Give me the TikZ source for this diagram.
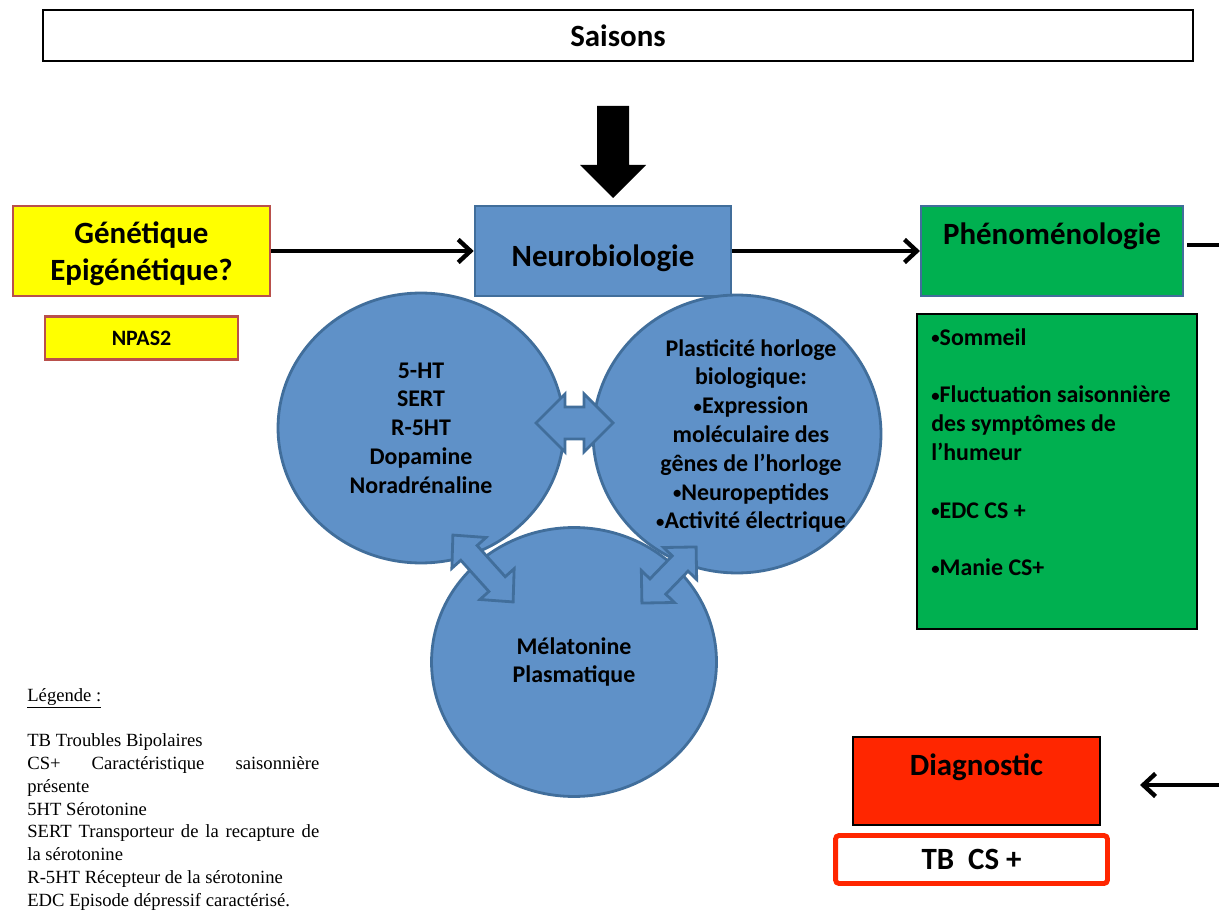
\documentclass[tikz,border=0pt]{standalone}
\usepackage{fontspec}
\setmainfont{Carlito}
\newfontfamily\legfont{Liberation Serif}
\usetikzlibrary{shapes.geometric,arrows.meta,positioning}
\definecolor{bleu}{RGB}{95,145,200}
\definecolor{bleufonce}{RGB}{65,110,155}
\definecolor{jaune}{RGB}{255,255,0}
\definecolor{brique}{RGB}{185,80,75}
\definecolor{vert}{RGB}{0,176,80}
\definecolor{rouge}{RGB}{255,38,0}
\newcommand\puce{\raisebox{0.12ex}{\scalebox{0.7}{•}}}
\tikzstyle{boite} = [draw=black,line width=1.5pt,rectangle,inner sep=0pt,
  font=\bfseries\fontsize{17.6pt}{21pt}\selectfont,align=center]
\tikzstyle{titre} = [font=\bfseries\fontsize{17.6pt}{21pt}\selectfont,anchor=base,inner sep=0pt]
\tikzstyle{bulle} = [draw=bleufonce,fill=bleu,line width=1.6pt,ellipse,inner sep=0pt,
  font=\bfseries\fontsize{13.6pt}{16.4pt}\selectfont,align=center]
\tikzstyle{fleche} = [line width=2.5pt,-{Straight Barb[length=7pt,width=13pt]}]
\tikzset{
  pics/dblfleche/.style n args={4}{code={
    \draw [draw=bleufonce,fill=bleu,line width=1.6pt,line join=miter]
      ({-#1/2},0) -- ({-#1/2+#2},#3) -- ({-#1/2+#2},#4) -- ({#1/2-#2},#4)
      -- ({#1/2-#2},#3) -- ({#1/2},0) -- ({#1/2-#2},-#3) -- ({#1/2-#2},-#4)
      -- ({-#1/2+#2},-#4) -- ({-#1/2+#2},-#3) -- cycle;
  }}
}

\begin{document}
\begin{tikzpicture}[x=0.02cm,y=-0.02cm]
    \useasboundingbox (0,0) rectangle (1219,911);
    % saisons
    \node [boite,minimum width=23cm,minimum height=1.02cm] (saisons) at (618,35.5) {Saisons};
    \fill (597,106) -- (629,106) -- (629,165) -- (646,165) -- (613,198)
      -- (580,165) -- (597,165) -- cycle;
    % rangee du haut
    \node [boite,draw=brique,fill=jaune,minimum width=5.14cm,minimum height=1.8cm] (genet) at (141.5,251) {};
    \node [boite,draw=none,yshift=-0.06cm] (genettexte) at (genet) {Génétique\\Epigénétique?};
    \node [boite,draw=brique,fill=jaune,minimum width=3.86cm,minimum height=0.86cm,
      font=\bfseries\fontsize{12.5pt}{15pt}\selectfont,below=0.36cm of genet] (npas) {NPAS2};
    \node [boite,draw=bleufonce,fill=bleu,minimum width=5.12cm,minimum height=1.8cm] (neuro) at (603,251) {};
    \node [titre] (neurotitre) at (603,267) {Neurobiologie};
    \node [boite,draw=bleufonce,fill=vert,line width=1.2pt,minimum width=5.24cm,minimum height=1.8cm] (pheno) at (1052,251) {};
    \node [titre] (phenotitre) at (1052,245) {Phénoménologie};
    \draw [fleche] (genet) -- (neuro);
    \draw [fleche] (neuro) -- (pheno);
    \coordinate (phenosortie) at (1187,245);
    \coordinate (bordD) at (1219,245);
    \draw [line width=2.5pt] (phenosortie) -- (bordD);
    % symptomes
    \node [boite,fill=vert,line width=1.2pt,minimum width=5.6cm,minimum height=6.3cm] (symptomes) at (1057,471.5) {};
    \node [anchor=north west,inner sep=0pt,align=left,
      font=\bfseries\fontsize{13.6pt}{16.4pt}\selectfont] (symptexte) at (931,328)
      {\puce Sommeil\\[16.4pt]\puce Fluctuation saisonnière\\des symptômes de\\l’humeur\\[16.4pt]\puce EDC CS +\\[16.4pt]\puce Manie CS+};
    % bulles
    \node [bulle,minimum width=5.72cm,minimum height=5.4cm] (mono) at (421,428)
      {5-HT\\SERT\\R-5HT\\Dopamine\\Noradrénaline};
    \node [bulle,minimum width=5.76cm,minimum height=5.56cm] (horloge) at (737,434) {};
    \node [font=\bfseries\fontsize{13.6pt}{16.4pt}\selectfont,align=center,inner sep=0pt] (horlogetexte) at (751,436)
      {Plasticité horloge\\biologique:\\\puce Expression\\moléculaire des\\gênes de l’horloge\\\puce Neuropeptides\\\puce Activité électrique};
    \node [bulle,minimum width=5.7cm,minimum height=5.38cm] (melato) at (574,662) {Mélatonine\\Plasmatique};
    \pic at (574.5,423) {dblfleche={77}{29}{29}{16}};
    \pic [rotate=-48] at (483,568.5) {dblfleche={90}{24}{23}{11}};
    \pic [rotate=46] at (669,575) {dblfleche={78}{23}{23}{11}};
    % diagnostic
    \node [boite,fill=rouge,line width=1.2pt,minimum width=4.94cm,minimum height=1.76cm] (diag) at (976.5,781) {};
    \node [titre] (diagtitre) at (976.5,775) {Diagnostic};
    \node [boite,draw=rouge,fill=white,line width=2.8pt,rounded corners=2pt,
      minimum width=5.44cm,minimum height=0.96cm] (tbcs) at (971.5,859.5) {TB\ \ CS +};
    \coordinate (bordD2) at (1219,785);
    \coordinate (diagentree) at (1140,785);
    \draw [fleche] (bordD2) -- (diagentree);
    % legende
    \node [anchor=north west,inner sep=0pt,text width=5.84cm,align=justify,
      font=\legfont\fontsize{10.6pt}{12.95pt}\selectfont] (legende) at (27,688)
      {\parindent=0pt\hyphenpenalty=10000
      \underline{Légende :}\par\vspace{12.95pt}
      TB Troubles Bipolaires\par
      CS+ Caractéristique saisonnière\linebreak présente\par
      5HT Sérotonine\par
      SERT Transporteur de la recapture de\linebreak la sérotonine\par
      R-5HT Récepteur de la sérotonine\par
      EDC Episode dépressif caractérisé.};
\end{tikzpicture}
\end{document}
